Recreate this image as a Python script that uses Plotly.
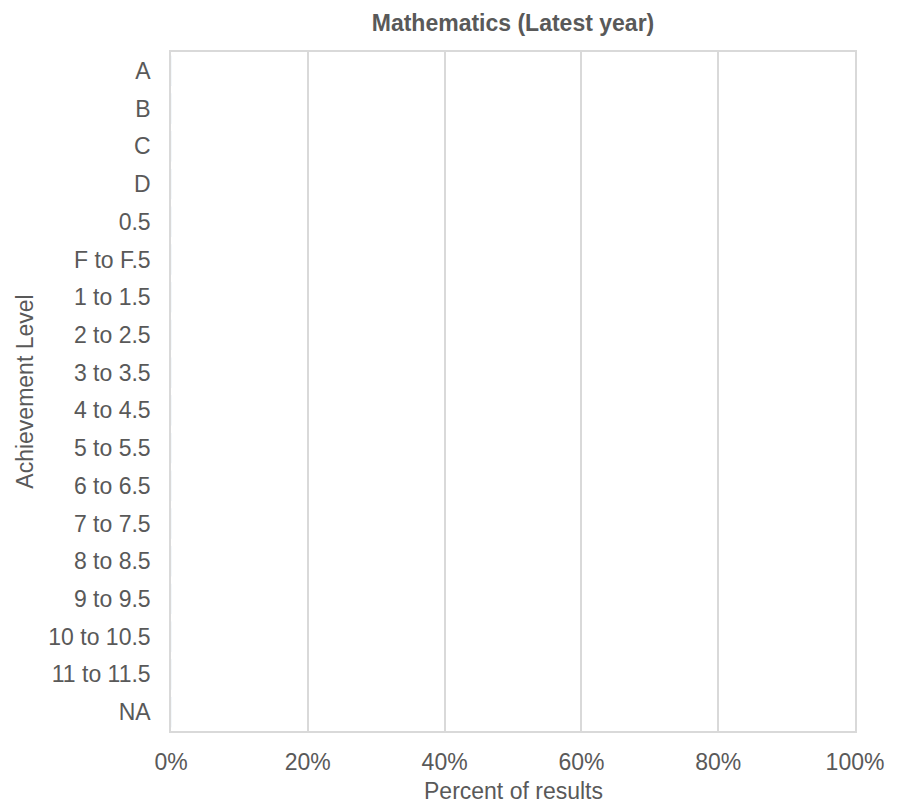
import plotly.graph_objects as go

categories = ["A", "B", "C", "D", "0.5", "F to F.5", "1 to 1.5", "2 to 2.5", "3 to 3.5",
              "4 to 4.5", "5 to 5.5", "6 to 6.5", "7 to 7.5", "8 to 8.5", "9 to 9.5",
              "10 to 10.5", "11 to 11.5", "NA"]
values = [0] * len(categories)
x_ticks = [0, 0.2, 0.4, 0.6, 0.8, 1.0]

font_color = "#595959"
grid_color = "#D9D9D9"
FS = 23

fig = go.Figure(go.Bar(x=values, y=categories, orientation="h",
                       marker_color="#4472C4", showlegend=False))

W, H = 904, 807
T, B = 52, 76
plot_h = H - T - B
fig.update_layout(
    width=W, height=H,
    margin=dict(l=171, r=49, t=T, b=B),
    paper_bgcolor="white", plot_bgcolor="white",
    font=dict(family="Liberation Sans, Arial, sans-serif", size=FS, color=font_color),
    title=dict(text="<b>Mathematics (Latest year)</b>", x=0.5, xanchor="center",
               xref="paper", yref="container", y=1 - 23 / H, yanchor="middle",
               font=dict(size=FS, color=font_color)),
    annotations=[dict(text="Percent of results", xref="paper", yref="paper",
                      x=0.5, y=-60 / plot_h, xanchor="center", yanchor="middle",
                      showarrow=False, font=dict(size=FS, color=font_color))],
)
fig.update_xaxes(
    range=[0, 1], tickvals=x_ticks, tickformat=".0%",
    showgrid=True, gridcolor=grid_color, gridwidth=1.5,
    showline=True, linecolor=grid_color, linewidth=1.5, mirror=True,
    zeroline=False, ticks="", ticklen=0, ticklabelstandoff=10, automargin=False,
)
fig.update_yaxes(
    type="category", categoryorder="array", categoryarray=categories,
    autorange="reversed",
    showgrid=False, automargin=False,
    showline=True, linecolor=grid_color, linewidth=1.5, mirror=True,
    ticks="", ticklabelstandoff=14,
    title=dict(text="Achievement Level", font=dict(size=FS, color=font_color), standoff=8),
)

fig.write_html("out.html",
               config={"displayModeBar": False},
               post_script="document.body.style.margin='0';document.body.style.overflow='hidden';")
